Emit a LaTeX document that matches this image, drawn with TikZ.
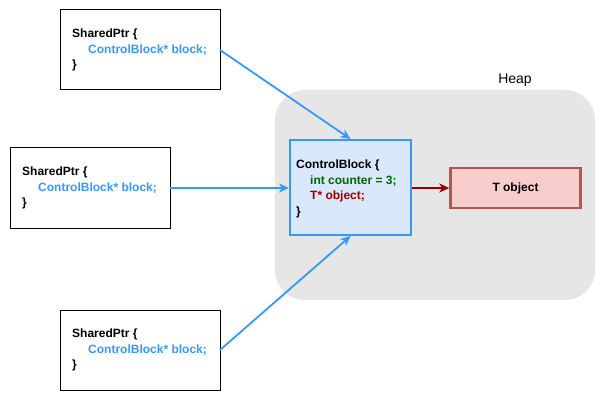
\documentclass[tikz,border=0pt]{standalone}
\usepackage{fontspec}
\setmainfont{Liberation Sans}
\usetikzlibrary{arrows.meta}
\definecolor{ptrblue}{HTML}{3399FF}
\definecolor{cbfill}{HTML}{DAE8FC}
\definecolor{heapgray}{HTML}{E6E6E6}
\definecolor{tfill}{HTML}{F8CECC}
\definecolor{tdraw}{HTML}{B85450}
\definecolor{darkred}{HTML}{990000}
\definecolor{darkgreen}{HTML}{006600}
\begin{document}
\begin{tikzpicture}[x=1pt,y=-1pt,
  codefont/.style={font=\bfseries\fontsize{12}{15.5}\selectfont},
  ptrbox/.style={draw=black,line width=1pt},
  ptrtext/.style={codefont,align=left,anchor=west,inner sep=0pt},
  ptrarrow/.style={draw=ptrblue,line width=1.8pt,-{Stealth[length=10pt,width=9pt,inset=3pt]}},
  objarrow/.style={draw=darkred,line width=1.8pt,-{Stealth[length=10pt,width=9pt,inset=3pt]}}
]
\useasboundingbox (0,0) rectangle (605,401);
% heap
\fill[heapgray,rounded corners=30pt] (275,90) rectangle (595,300);
\node[font=\fontsize{14}{16}\selectfont] (heaplbl) at (515,80) {Heap};
% shared pointers
\draw[ptrbox] (60,10) rectangle (220,90);
\coordinate (p1) at (220,50);
\node[ptrtext] (t1) at (72,50) {SharedPtr \{\\\hspace*{16pt}\textcolor{ptrblue}{ControlBlock* block;}\\\}};
\draw[ptrbox] (10,148) rectangle (170,228);
\coordinate (p2) at (170,188);
\node[ptrtext] (t2) at (22,188) {SharedPtr \{\\\hspace*{16pt}\textcolor{ptrblue}{ControlBlock* block;}\\\}};
\draw[ptrbox] (60,310) rectangle (220,390);
\coordinate (p3) at (220,350);
\node[ptrtext] (t3) at (72,350) {SharedPtr \{\\\hspace*{16pt}\textcolor{ptrblue}{ControlBlock* block;}\\\}};
% control block
\node[draw=ptrblue,fill=cbfill,line width=2pt,minimum width=121pt,minimum height=95pt,inner sep=0pt] (cb) at (350.5,187.5) {};
\node[ptrtext] (cbt) at (296,189) {ControlBlock \{\\\hspace*{14pt}\textcolor{darkgreen}{int counter = 3;}\\\hspace*{14pt}\textcolor{darkred}{T* object;}\\\}};
% T object
\node[draw=tdraw,fill=tfill,line width=2.5pt,minimum width=130pt,minimum height=40pt,inner sep=0pt,codefont] (tobj) at (515.5,188) {T object};
% arrows
\draw[ptrarrow] (p1) -- (cb.north);
\draw[ptrarrow] (p2) -- (cb.west |- p2);
\draw[ptrarrow] (p3) -- (cb.south);
\draw[objarrow] (cb.east |- tobj.west) -- (tobj.west);
\end{tikzpicture}
\end{document}
